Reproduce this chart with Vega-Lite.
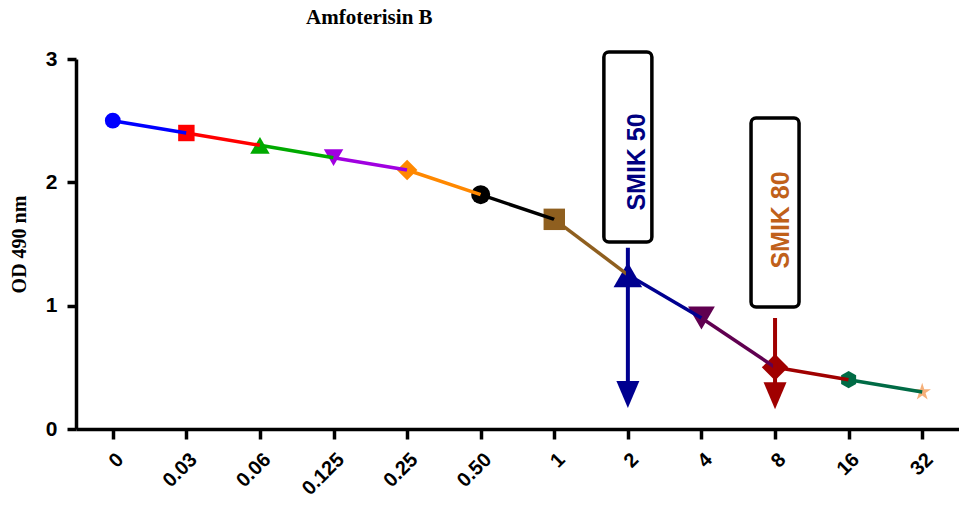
{
  "$schema": "https://vega.github.io/schema/vega-lite/v6.json",
  "autosize": "none",
  "width": 883,
  "height": 370,
  "padding": {"left": 76, "top": 59, "right": 0, "bottom": 84},
  "background": "white",
  "title": {
    "text": "Amfoterisin B",
    "font": "Liberation Serif",
    "fontSize": 21,
    "fontWeight": "bold",
    "color": "black",
    "anchor": "start",
    "frame": "group",
    "dx": 230,
    "offset": 20
  },
  "config": {
    "view": {"stroke": null},
    "axis": {
      "domainColor": "black",
      "domainWidth": 3.5,
      "tickColor": "black",
      "tickWidth": 3.5,
      "tickSize": 10,
      "grid": false,
      "labelFont": "Liberation Sans",
      "labelFontWeight": "bold",
      "labelColor": "black",
      "titleColor": "black"
    }
  },
  "datasets": {
    "points": [
      {"conc": "0", "od": 2.5},
      {"conc": "0.03", "od": 2.4},
      {"conc": "0.06", "od": 2.3},
      {"conc": "0.125", "od": 2.2},
      {"conc": "0.25", "od": 2.1},
      {"conc": "0.50", "od": 1.9},
      {"conc": "1", "od": 1.7},
      {"conc": "2", "od": 1.25},
      {"conc": "4", "od": 0.9},
      {"conc": "8", "od": 0.5},
      {"conc": "16", "od": 0.4},
      {"conc": "32", "od": 0.3}
    ],
    "segments": [
      {"conc": "0", "to": "0.03", "od": 2.5, "od_to": 2.4},
      {"conc": "0.03", "to": "0.06", "od": 2.4, "od_to": 2.3},
      {"conc": "0.06", "to": "0.125", "od": 2.3, "od_to": 2.2},
      {"conc": "0.125", "to": "0.25", "od": 2.2, "od_to": 2.1},
      {"conc": "0.25", "to": "0.50", "od": 2.1, "od_to": 1.9},
      {"conc": "0.50", "to": "1", "od": 1.9, "od_to": 1.7},
      {"conc": "1", "to": "2", "od": 1.7, "od_to": 1.25},
      {"conc": "2", "to": "4", "od": 1.25, "od_to": 0.9},
      {"conc": "4", "to": "8", "od": 0.9, "od_to": 0.5},
      {"conc": "8", "to": "16", "od": 0.5, "od_to": 0.4},
      {"conc": "16", "to": "32", "od": 0.4, "od_to": 0.3}
    ],
    "arrows": [
      {"conc": "2", "start": 1.47, "end": 0.33, "head": 0.28},
      {"conc": "8", "start": 0.9, "end": 0.33, "head": 0.27}
    ],
    "boxes": [
      {"conc": "2", "top": 3.057, "bottom": 1.517, "label": "SMIK 50", "mid": 2.165},
      {"conc": "8", "top": 2.522, "bottom": 0.989, "label": "SMIK 80", "mid": 1.695}
    ]
  },
  "encoding": {
    "x": {
      "field": "conc",
      "type": "ordinal",
      "scale": {
        "type": "point",
        "domain": ["0", "0.03", "0.06", "0.125", "0.25", "0.50", "1", "2", "4", "8", "16", "32"],
        "padding": 0.5
      },
      "axis": {
        "title": null,
        "labelAngle": -45,
        "labelFontSize": 20,
        "labelPadding": 10
      }
    }
  },
  "layer": [
    {
      "data": {"name": "points"},
      "mark": {"type": "point", "filled": true, "opacity": 1},
      "encoding": {
        "y": {
          "field": "od",
          "type": "quantitative",
          "scale": {"domain": [0, 3], "nice": false},
          "axis": {
            "values": [0, 1, 2, 3],
            "format": "d",
            "title": "OD 490 nm",
            "titleFont": "Liberation Serif",
            "titleFontSize": 20,
            "titleFontWeight": "bold",
            "titlePadding": 16,
            "labelFontSize": 21,
            "labelPadding": 10,
            "tickSize": 9
          }
        },
        "color": {
          "field": "conc",
          "type": "nominal",
          "legend": null,
          "scale": {
            "domain": ["0", "0.03", "0.06", "0.125", "0.25", "0.50", "1", "2", "4", "8", "16", "32"],
            "range": ["#0000ff", "#ff0000", "#00aa00", "#a000e0", "#ff8800", "#000000", "#8f5f1f", "#000090", "#600050", "#a00000", "#006b45", "#f5b07a"]
          }
        },
        "shape": {
          "field": "conc",
          "type": "nominal",
          "legend": null,
          "scale": {
            "domain": ["0", "0.03", "0.06", "0.125", "0.25", "0.50", "1", "2", "4", "8", "16", "32"],
            "range": ["circle", "square", "triangle-up", "triangle-down", "diamond", "circle", "square", "triangle-up", "triangle-down", "diamond", "M0,-1L0.866,-0.5L0.866,0.5L0,1L-0.866,0.5L-0.866,-0.5Z", "M0,-1L0.223,-0.307L0.951,-0.309L0.361,0.117L0.588,0.809L0,0.38L-0.588,0.809L-0.361,0.117L-0.951,-0.309L-0.223,-0.307Z"]
          }
        },
        "size": {
          "field": "conc",
          "type": "nominal",
          "legend": null,
          "scale": {
            "type": "ordinal",
            "domain": ["0", "0.03", "0.06", "0.125", "0.25", "0.50", "1", "2", "4", "8", "16", "32"],
            "range": [250, 270, 380, 380, 420, 360, 460, 820, 720, 700, 300, 340]
          }
        }
      }
    },
    {
      "data": {"name": "segments"},
      "mark": {"type": "rule", "strokeWidth": 3.5},
      "encoding": {
        "x2": {"field": "to"},
        "y": {"field": "od", "type": "quantitative"},
        "y2": {"field": "od_to"},
        "color": {"field": "conc", "type": "nominal", "legend": null}
      }
    },
    {
      "data": {"name": "arrows"},
      "mark": {"type": "rule", "strokeWidth": 4},
      "encoding": {
        "y": {"field": "start", "type": "quantitative"},
        "y2": {"field": "end"},
        "color": {"field": "conc", "type": "nominal", "legend": null}
      }
    },
    {
      "data": {"name": "arrows"},
      "mark": {"type": "point", "filled": true, "opacity": 1, "size": 729, "shape": "M-0.85,-1L0.85,-1L0,1Z"},
      "encoding": {
        "y": {"field": "head", "type": "quantitative"},
        "color": {"field": "conc", "type": "nominal", "legend": null}
      }
    },
    {
      "data": {"name": "boxes"},
      "mark": {"type": "bar", "width": 48, "fill": "white", "stroke": "black", "strokeWidth": 3.5, "cornerRadius": 5},
      "encoding": {
        "y": {"field": "top", "type": "quantitative"},
        "y2": {"field": "bottom"}
      }
    },
    {
      "data": {"name": "boxes"},
      "transform": [{"filter": "datum.label == 'SMIK 50'"}],
      "mark": {"type": "text", "angle": 270, "font": "Liberation Sans", "fontWeight": "bold", "fontSize": 25, "color": "#000080", "align": "center", "baseline": "middle", "dy": 9},
      "encoding": {
        "y": {"field": "mid", "type": "quantitative"},
        "text": {"field": "label"}
      }
    },
    {
      "data": {"name": "boxes"},
      "transform": [{"filter": "datum.label == 'SMIK 80'"}],
      "mark": {"type": "text", "angle": 270, "font": "Liberation Sans", "fontWeight": "bold", "fontSize": 25, "color": "#c0601a", "align": "center", "baseline": "middle", "dy": 6},
      "encoding": {
        "y": {"field": "mid", "type": "quantitative"},
        "text": {"field": "label"}
      }
    }
  ]
}
